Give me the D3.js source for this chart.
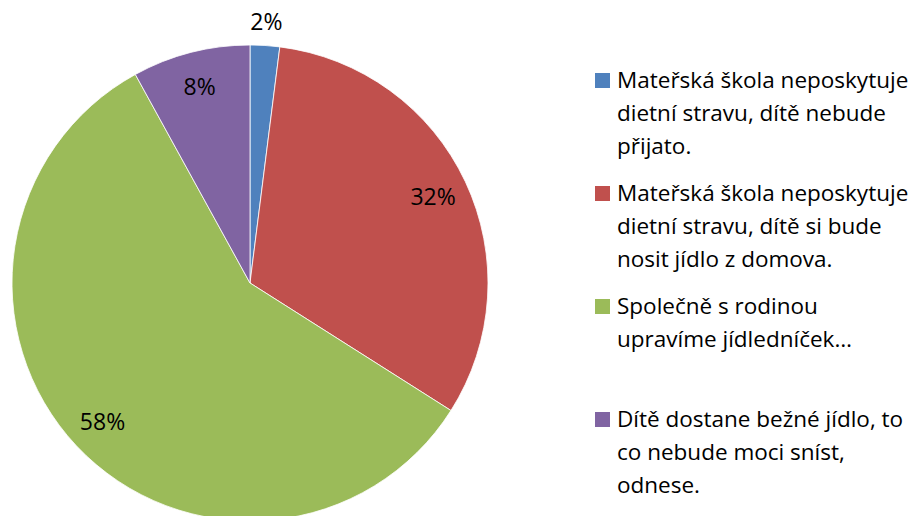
<!DOCTYPE html>
<html>
<head>
<meta charset="utf-8">
<script src="https://cdn.jsdelivr.net/npm/d3@7"></script>
<style>
  body { margin: 0; background: #fff; }
  text { font-family: "Open Sans", sans-serif; fill: #000; }
</style>
</head>
<body>
<div id="dataviz"></div>
<script>
var categories = [
  "Mateřská škola neposkytuje dietní stravu, dítě nebude přijato.",
  "Mateřská škola neposkytuje dietní stravu, dítě si bude nosit jídlo z domova.",
  "Společně s rodinou upravíme jídledníček…",
  "Dítě dostane bežné jídlo, to co nebude moci sníst, odnese."
];
var legendLines = [
  ["Mateřská škola neposkytuje", "dietní stravu, dítě nebude", "přijato."],
  ["Mateřská škola neposkytuje", "dietní stravu, dítě si bude", "nosit jídlo z domova."],
  ["Společně s rodinou", "upravíme jídledníček…"],
  ["Dítě dostane bežné jídlo, to", "co nebude moci sníst,", "odnese."]
];
var values = [2, 32, 58, 8];
var colors = ["#4F81BD", "#C0504D", "#9BBB59", "#8064A2"];

var width = 922, height = 516;
var radius = 238;
var cx = 250, cy = 283;

var svg = d3.select("#dataviz")
  .append("svg")
    .attr("width", width)
    .attr("height", height);

var data = categories.map(function(c, i) { return { name: c, value: values[i], color: colors[i] } });

var pie = d3.pie()
  .sort(null)
  .value(function(d) { return d.value });

var arc = d3.arc()
  .innerRadius(0)
  .outerRadius(radius);

var labelArc = d3.arc()
  .innerRadius(radius * 0.85)
  .outerRadius(radius * 0.85);

// tiny slices get their label outside the pie
var outerLabelArc = d3.arc()
  .innerRadius(radius * 1.1)
  .outerRadius(radius * 1.1);

var g = svg.append("g")
  .attr("transform", "translate(" + cx + "," + cy + ")");

var arcs = pie(data);

g.selectAll("path")
  .data(arcs)
  .enter()
  .append("path")
    .attr("d", arc)
    .attr("fill", function(d) { return d.data.color })
    .attr("stroke", "#fff")
    .attr("stroke-width", 0.8);

g.selectAll("text.pct")
  .data(arcs)
  .enter()
  .append("text")
    .attr("class", "pct")
    .attr("transform", function(d) {
      var a = d.data.value < 5 ? outerLabelArc : labelArc;
      return "translate(" + a.centroid(d) + ")";
    })
    .attr("text-anchor", "middle")
    .attr("dy", "0.35em")
    .style("font-size", "23px")
    .text(function(d) { return d.data.value + "%" });

// legend
var legendY = d3.scalePoint()
  .domain(d3.range(categories.length))
  .range([88, 427]);

var legend = svg.append("g")
  .selectAll("g")
  .data(data)
  .enter()
  .append("g")
    .attr("transform", function(d, i) { return "translate(595," + legendY(i) + ")" });

legend.append("rect")
  .attr("x", 0)
  .attr("y", -15)
  .attr("width", 15)
  .attr("height", 15)
  .attr("fill", function(d) { return d.color });

legend.append("text")
  .style("font-size", "22.5px")
  .selectAll("tspan")
  .data(function(d, i) { return legendLines[i] })
  .enter()
  .append("tspan")
    .attr("x", 22)
    .attr("y", function(d, j) { return j * 33 })
    .text(function(d) { return d });
</script>
</body>
</html>
